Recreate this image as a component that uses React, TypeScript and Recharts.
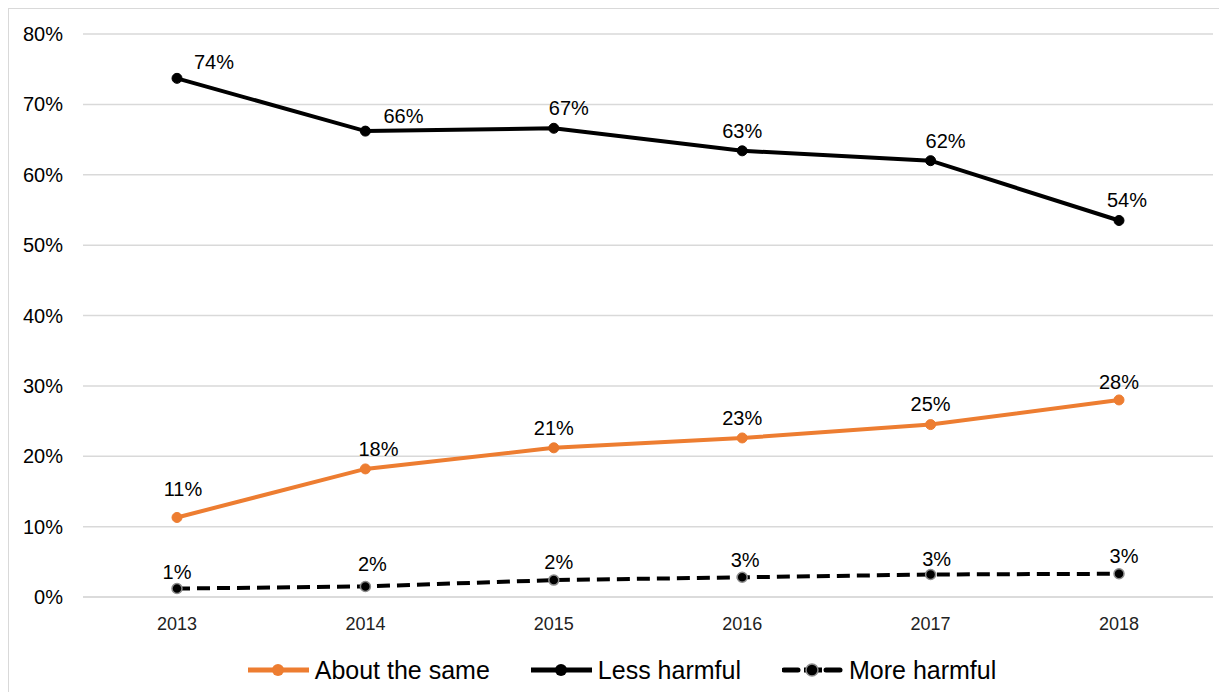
import React from "react";
import { LineChart, Line, XAxis, YAxis, CartesianGrid, Legend, LabelList } from "recharts";

const years = ["2013", "2014", "2015", "2016", "2017", "2018"];
const aboutTheSame = [11.3, 18.2, 21.2, 22.6, 24.5, 28.0];
const lessHarmful = [73.7, 66.2, 66.6, 63.4, 62.0, 53.5];
const moreHarmful = [1.2, 1.5, 2.4, 2.8, 3.2, 3.3];
const yTicks = [0, 10, 20, 30, 40, 50, 60, 70, 80];

const data = years.map((y, i) => ({
  year: y,
  same: aboutTheSame[i],
  less: lessHarmful[i],
  more: moreHarmful[i],
}));

const FONT = "'Liberation Sans', Arial, sans-serif";

// label nudges (styling only)
const sameNudge = { dx: [6, 13, 0, 0, 0, 0], dy: [21, 13, 13, 13, 14, 11] };
const lessNudge = { dx: [37, 38, 15, 0, 15, 8], dy: [9, 8, 13, 13, 13, 13] };
const moreNudge = { dx: [0, 7, 5, 3, 6, 5], dy: [10, 15, 11, 10, 8, 11] };

const makeLabel = (n: { dx: number[]; dy: number[] }) => (props: any) => {
  const { x, y, value, index } = props;
  return (
    <text
      x={x + (n.dx[index] ?? 0)}
      y={y - (n.dy[index] ?? 12)}
      textAnchor="middle"
      fontFamily={FONT}
      fontSize={20}
      fill="#000"
    >
      {Math.round(value)}%
    </text>
  );
};

const legendItems = [
  { name: "About the same", color: "#ED7D31", dashed: false, ring: false },
  { name: "Less harmful", color: "#000", dashed: false, ring: false },
  { name: "More harmful", color: "#000", dashed: true, ring: true },
];

const LegendContent = () => (
  <div
    style={{
      height: 57,
      boxSizing: "border-box",
      paddingTop: 28,
      paddingLeft: 22,
      display: "flex",
      justifyContent: "center",
      gap: 41,
      fontFamily: FONT,
      fontSize: 25,
      lineHeight: "28px",
      color: "#000",
    }}
  >
    {legendItems.map((it) => (
      <div key={it.name} style={{ display: "flex", alignItems: "center" }}>
        <svg width={61} height={16} style={{ marginRight: 6 }}>
          {it.dashed ? (
            <g>
              <line x1={2} y1={8} x2={16} y2={8} stroke={it.color} strokeWidth={5} strokeLinecap="round" />
              <line x1={44} y1={8} x2={58} y2={8} stroke={it.color} strokeWidth={5} strokeLinecap="round" />
              <line x1={22} y1={8} x2={40} y2={8} stroke={it.color} strokeWidth={5} />
            </g>
          ) : (
            <line x1={0} y1={8} x2={61} y2={8} stroke={it.color} strokeWidth={5} strokeLinecap="round" />
          )}
          <circle
            cx={30}
            cy={8}
            r={6}
            fill={it.color}
            stroke={it.ring ? "#8c8c8c" : it.color}
            strokeWidth={it.ring ? 1.5 : 0}
          />
        </svg>
        <span>{it.name}</span>
      </div>
    ))}
  </div>
);

export default function App() {
  return (
    <div
      style={{
        width: 1214,
        height: 692,
        border: "1px solid #d9d9d9",
        boxSizing: "border-box",
        background: "#fff",
      }}
    >
      <LineChart
        width={1212}
        height={683}
        data={data}
        margin={{ top: 25, right: 8, left: 0, bottom: 8 }}
      >
        <CartesianGrid vertical={false} stroke="#d9d9d9" strokeWidth={1.5} />
        <XAxis
          dataKey="year"
          height={30}
          padding={{ left: 94, right: 94 }}
          tickLine={false}
          axisLine={{ stroke: "#d9d9d9", strokeWidth: 1.5 }}
          tickMargin={14}
          tick={{ fontFamily: FONT, fontSize: 18, fill: "#222" }}
        />
        <YAxis
          width={74}
          domain={[0, 80]}
          ticks={yTicks}
          tickLine={false}
          axisLine={false}
          tickMargin={14}
          tickFormatter={(v: number) => `${v}%`}
          tick={{ fontFamily: FONT, fontSize: 20, fill: "#000" }}
        />
        <Legend verticalAlign="bottom" content={<LegendContent />} />
        <Line
          dataKey="same"
          name="About the same"
          stroke="#ED7D31"
          strokeWidth={4}
          dot={{ r: 5, fill: "#ED7D31", stroke: "#ED7D31", strokeWidth: 1 }}
          isAnimationActive={false}
        >
          <LabelList dataKey="same" content={makeLabel(sameNudge)} />
        </Line>
        <Line
          dataKey="less"
          name="Less harmful"
          stroke="#000"
          strokeWidth={4}
          dot={{ r: 5, fill: "#000", stroke: "#000", strokeWidth: 1 }}
          isAnimationActive={false}
        >
          <LabelList dataKey="less" content={makeLabel(lessNudge)} />
        </Line>
        <Line
          dataKey="more"
          name="More harmful"
          stroke="#000"
          strokeWidth={4}
          strokeDasharray="13 7"
          dot={{ r: 5, fill: "#000", stroke: "#8c8c8c", strokeWidth: 1.5, strokeDasharray: "" }}
          isAnimationActive={false}
        >
          <LabelList dataKey="more" content={makeLabel(moreNudge)} />
        </Line>
      </LineChart>
    </div>
  );
}
